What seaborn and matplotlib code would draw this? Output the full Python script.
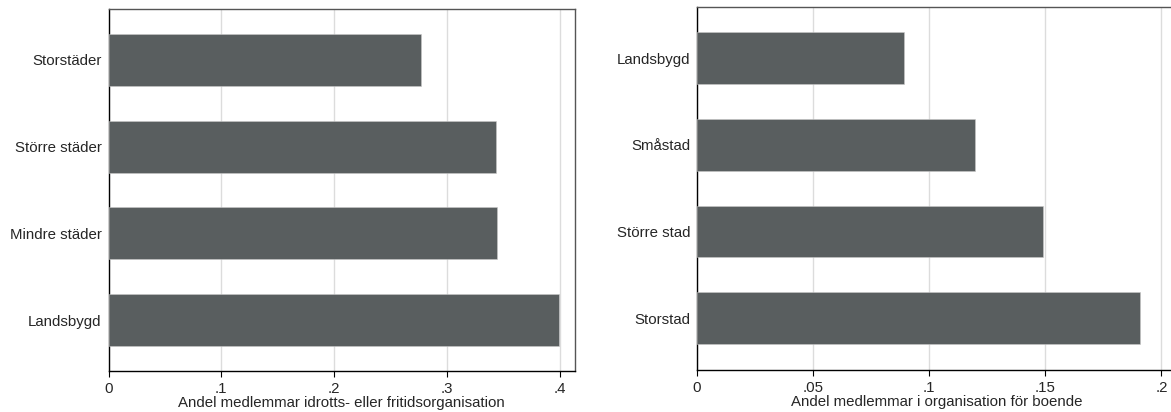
import pandas as pd
import numpy as np
import matplotlib.pyplot as plt
import seaborn as sns

# left panel: sport / leisure organisations
left_cats = ['Storstäder', 'Större städer', 'Mindre städer', 'Landsbygd']
left_vals = [0.2765, 0.3436, 0.3446, 0.3987]
left_ticks = [0, 0.1, 0.2, 0.3, 0.4]
left_ticklabels = ['0', '.1', '.2', '.3', '.4']
left_xlabel = 'Andel medlemmar idrotts- eller fritidsorganisation'

# right panel: housing organisations
right_cats = ['Landsbygd', 'Småstad', 'Större stad', 'Storstad']
right_vals = [0.0893, 0.1198, 0.1491, 0.1907]
right_ticks = [0, 0.05, 0.1, 0.15, 0.2]
right_ticklabels = ['0', '.05', '.1', '.15', '.2']
right_xlabel = 'Andel medlemmar i organisation för boende'

BAR_COLOR = '#595e5f'
GRID_COLOR = '#dcdcdc'
FS = 10.8

sns.set_style('white')
plt.rcParams['font.family'] = ['Liberation Sans', 'DejaVu Sans']
plt.rcParams['font.size'] = FS

W, H = 1171, 412
fig = plt.figure(figsize=(W / 100, H / 100), dpi=100)


def panel(rect, cats, vals, ticks, ticklabels, xlabel, xmax, ypad):
    ax = fig.add_axes([rect[0] / W, 1 - rect[3] / H,
                       (rect[2] - rect[0]) / W, (rect[3] - rect[1]) / H])
    df = pd.DataFrame({'cat': cats, 'val': vals})
    sns.barplot(data=df, x='val', y='cat', orient='h', color=BAR_COLOR,
                width=0.6, saturation=1, ax=ax, zorder=3,
                edgecolor='#c8c8c8', linewidth=0.4)
    ax.set_xlim(0, xmax)
    ax.set_ylim(len(cats) - 1 + ypad, -ypad)
    ax.set_xticks(ticks)
    ax.set_xticklabels(ticklabels)
    ax.xaxis.grid(True, color=GRID_COLOR, linewidth=1.0, zorder=0)
    ax.yaxis.grid(False)
    ax.set_axisbelow(True)
    ax.tick_params(axis='x', bottom=True, length=4, width=0.8, color='black',
                   pad=4, labelsize=FS)
    ax.tick_params(axis='y', left=False, length=0, pad=5, labelsize=FS)
    ax.set_ylabel('')
    ax.set_xlabel(xlabel, fontsize=FS, labelpad=0)
    for side in ['left', 'bottom']:
        ax.spines[side].set_color('black')
        ax.spines[side].set_linewidth(1.0)
    for side in ['top', 'right']:
        ax.spines[side].set_color('#555555')
        ax.spines[side].set_linewidth(1.0)
    return ax


panel((108.5, 9, 575, 371), left_cats, left_vals, left_ticks,
      left_ticklabels, left_xlabel, 0.4133, 0.586)
panel((697, 7, 1177, 369.5), right_cats, right_vals, right_ticks,
      right_ticklabels, right_xlabel, 0.2067, 0.594)

plt.savefig('out.png', dpi=100)
plt.close()
